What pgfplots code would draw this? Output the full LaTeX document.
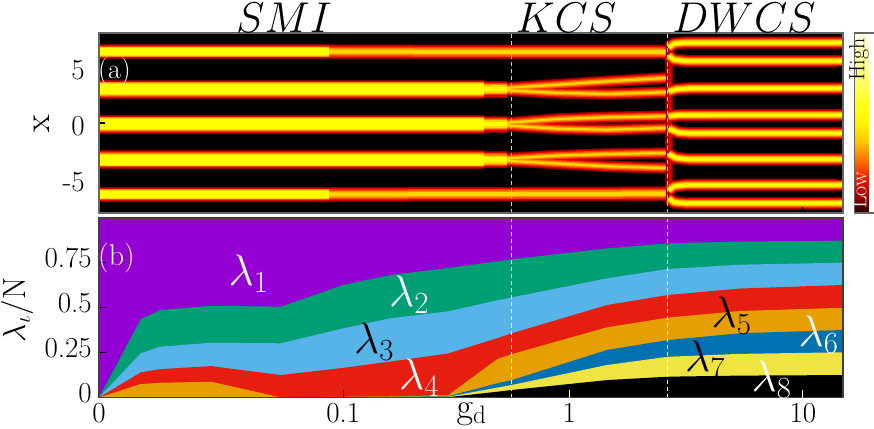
\RequirePackage{fix-cm}
\documentclass[border=0pt]{standalone}
\usepackage{pgfplots}
\usepackage{pgfplotstable}
\pgfplotsset{compat=1.18}
\newcommand\fs[1]{\fontsize{#1}{#1}\selectfont}
\definecolor{cpurple}{HTML}{9400D3}
\definecolor{cgreen}{HTML}{009E73}
\definecolor{csky}{HTML}{56B4E9}
\definecolor{cred}{HTML}{E51E10}
\definecolor{corange}{HTML}{E69F00}
\definecolor{cblue}{HTML}{0072B2}
\definecolor{cyellow}{HTML}{F0E442}
\definecolor{lA}{RGB}{140,0,0}
\definecolor{lB}{RGB}{215,0,0}
\definecolor{lC}{RGB}{255,60,0}
\definecolor{lD}{RGB}{255,140,0}
\definecolor{lE}{RGB}{255,215,0}
\definecolor{lF}{RGB}{255,255,0}
\pgfplotsset{colormap={hotc}{rgb255=(30,0,0) rgb255=(170,0,0) rgb255=(240,30,0) rgb255=(255,120,0) rgb255=(255,200,0) rgb255=(255,245,0) rgb255=(255,255,20) rgb255=(255,255,80) rgb255=(255,255,140) rgb255=(255,255,190) rgb255=(255,255,230)}}

% stacked occupations (cumulative boundaries), u = log10(g_d+0.01)
\pgfplotstableread{
u B1 B2 B3 B4 B5 B6 B7 B8
-2 1 0 0 0 0 0 0 0
-1.8223 1 0.436 0.246 0.140 0.075 0 0 0
-1.7400 1 0.487 0.283 0.158 0.082 0 0 0
-1.5226 1 0.511 0.305 0.175 0.088 0 0 0
-1.2242 1 0.506 0.302 0.125 0.000 0 0 0
-0.9599 1 0.627 0.385 0.165 0.004 0.002 0.001 0
-0.7596 1 0.682 0.441 0.200 0.007 0.004 0.002 0
-0.5124 1 0.722 0.480 0.245 0.012 0.007 0.004 0.002
-0.3035 1 0.759 0.541 0.330 0.213 0.079 0.055 0.032
-0.2396 1 0.770 0.558 0.358 0.242 0.097 0.070 0.042
0.1654 1 0.831 0.664 0.515 0.391 0.265 0.181 0.097
0.4254 1 0.859 0.716 0.571 0.445 0.320 0.227 0.116
0.7323 1 0.869 0.740 0.607 0.482 0.358 0.243 0.122
1.1714 1 0.874 0.751 0.627 0.500 0.376 0.252 0.125
}\lam

% density maxima (band centres)
\pgfplotstableread{
u x
-2 3.0
-0.36 3.0
nan nan
-2 -0.1
-0.36 -0.1
nan nan
-2 -3.25
-0.36 -3.25
}\tSA
\pgfplotstableread{
u x
-0.36 3.0
-0.26 3.0
nan nan
-0.36 -0.1
-0.26 -0.1
nan nan
-0.36 -3.25
-0.26 -3.25
}\tSM
\pgfplotstableread{
u x
-2 6.34
-1.02 6.34
nan nan
-2 -6.35
-1.02 -6.35
}\tSAo
\pgfplotstableread{
u x
-1.02 6.34
0.415 6.31
nan nan
-1.02 -6.35
0.415 -6.28
}\tSB
\pgfplotstableread{
u x
-0.30 3.0
-0.24 3.15
-0.05 3.4
0.17 3.71
0.415 4.0
nan nan
-0.30 3.0
-0.24 2.88
-0.05 2.68
0.17 2.58
0.415 2.73
nan nan
-0.30 -0.1
-0.24 0.05
-0.05 0.35
0.17 0.51
0.415 0.6
nan nan
-0.30 -0.1
-0.24 -0.25
-0.05 -0.5
0.17 -0.6
0.415 -0.44
nan nan
-0.30 -3.25
-0.24 -3.12
-0.05 -2.9
0.17 -2.76
0.415 -2.67
nan nan
-0.30 -3.25
-0.24 -3.38
-0.05 -3.6
0.17 -3.85
0.415 -4.0
}\tSBb
\pgfplotstableread{
u x
0.428 6.7
0.45 7.05
0.50 7.14
1.1714 7.14
nan nan
0.428 6.0
0.45 5.62
0.50 5.51
1.1714 5.51
nan nan
0.428 2.8
0.46 3.0
0.52 3.08
1.1714 3.08
nan nan
0.428 0.6
0.47 0.7
1.1714 0.71
nan nan
0.428 -0.5
0.47 -0.85
0.52 -0.92
1.1714 -0.92
nan nan
0.428 -2.75
0.46 -3.12
0.52 -3.23
1.1714 -3.23
nan nan
0.428 -6.0
0.45 -5.62
0.50 -5.51
1.1714 -5.51
nan nan
0.428 -6.7
0.45 -7.05
0.50 -7.14
1.1714 -7.14
}\tSC
\pgfplotstableread{
u x
0.43 -7.2
0.43 7.2
}\tSV

\newcommand\lay[3]{\addplot[draw=#1, line width=#2, no markers, line join=round, forget plot] table[x=u,y=x] {#3};}

\begin{document}
\begin{tikzpicture}
\useasboundingbox (0,0) rectangle (874pt,428pt);

% ---------------- panel (a)
\begin{axis}[
  at={(99pt,215pt)}, anchor=south west, scale only axis,
  width=744pt, height=180pt,
  xmin=-2, xmax=1.1714, ymin=-8, ymax=8,
  axis background/.style={fill=black},
  axis on top,
  axis line style={draw=black!60, line width=1.3pt},
  tick style={black, line width=1.1pt}, major tick length=6pt, tick align=inside,
  xtick={-0.9586,0.0043,1.0004}, xticklabels={}, xtick pos=left,
  ytick={-5,0,5}, yticklabels={{\textrm{-5}},0,5},
  tick label style={font=\fs{29}},
  yticklabel style={inner sep=0pt, xshift=-14pt, yshift=-3pt},
  unbounded coords=jump,
  colormap name=hotc, colorbar, point meta min=0, point meta max=1,
  colorbar style={at={(parent axis.south east)}, anchor=south west, xshift=3pt,
     scale only axis, width=26pt, height=180pt, ytick=\empty, xtick=\empty,
     axis line style={draw=black!60, line width=1.3pt}},
]
\lay{lA}{8pt}{\tSV}
\lay{lA}{19pt}{\tSA}\lay{lA}{17pt}{\tSM}\lay{lA}{15.5pt}{\tSAo}\lay{lA}{14.5pt}{\tSB}\lay{lA}{11.5pt}{\tSBb}\lay{lA}{12.5pt}{\tSC}
\lay{lB}{4pt}{\tSV}
\lay{lB}{17pt}{\tSA}\lay{lB}{15pt}{\tSM}\lay{lB}{13.5pt}{\tSAo}\lay{lB}{12.5pt}{\tSB}\lay{lB}{9.5pt}{\tSBb}\lay{lB}{10.5pt}{\tSC}
\lay{lC}{15pt}{\tSA}\lay{lC}{12.5pt}{\tSM}\lay{lC}{11.5pt}{\tSAo}\lay{lC}{10pt}{\tSB}\lay{lC}{7pt}{\tSBb}\lay{lC}{8.5pt}{\tSC}
\lay{lD}{13.5pt}{\tSA}\lay{lD}{10.5pt}{\tSM}\lay{lD}{10pt}{\tSAo}\lay{lD}{7pt}{\tSB}\lay{lD}{4.5pt}{\tSBb}\lay{lD}{6.5pt}{\tSC}
\lay{lE}{12pt}{\tSA}\lay{lE}{8pt}{\tSM}\lay{lE}{8.5pt}{\tSAo}\lay{lE}{4pt}{\tSB}\lay{lE}{2.2pt}{\tSBb}\lay{lE}{4.8pt}{\tSC}
\lay{lF}{10pt}{\tSA}\lay{lF}{4.5pt}{\tSM}\lay{lF}{6.5pt}{\tSAo}\lay{lF}{2.8pt}{\tSC}
\addplot[draw=black!20, line width=1.3pt, dash pattern=on 4pt off 3pt, forget plot] coordinates {(-0.2408,-8) (-0.2408,8)};
\addplot[draw=black!20, line width=1.3pt, dash pattern=on 4pt off 3pt, forget plot] coordinates {(0.4241,-8) (0.4241,8)};
\end{axis}

% ---------------- panel (b)
\begin{axis}[
  at={(99pt,30.5pt)}, anchor=south west, scale only axis,
  width=744pt, height=179.5pt,
  xmin=-2, xmax=1.1714, ymin=0, ymax=1,
  axis on top,
  axis line style={draw=black!75, line width=1.3pt},
  tick style={black, line width=1.1pt}, major tick length=7pt, tick align=inside,
  xtick={-2,-0.9586}, xticklabels={0,0.1}, xtick pos=left,
  extra x ticks={0.0043,1.0004}, extra x tick labels={1,10},
  extra x tick style={major tick style={white, line width=1.1pt}},
  ytick={0,0.25,0.5,0.75}, yticklabels={0,0.25,0.5,0.75}, ytick pos=left,
  tick label style={font=\fs{29}},
  xticklabel style={inner sep=0pt, yshift=-5.5pt},
  yticklabel style={inner sep=0pt, xshift=-7pt, yshift=4.5pt},
]
\addplot[fill=cpurple, draw=none] table[x=u,y=B1] {\lam} \closedcycle;
\addplot[fill=cgreen, draw=none] table[x=u,y=B2] {\lam} \closedcycle;
\addplot[fill=csky, draw=none] table[x=u,y=B3] {\lam} \closedcycle;
\addplot[fill=cred, draw=none] table[x=u,y=B4] {\lam} \closedcycle;
\addplot[fill=corange, draw=none] table[x=u,y=B5] {\lam} \closedcycle;
\addplot[fill=cblue, draw=none] table[x=u,y=B6] {\lam} \closedcycle;
\addplot[fill=cyellow, draw=none] table[x=u,y=B7] {\lam} \closedcycle;
\addplot[fill=black, draw=none] table[x=u,y=B8] {\lam} \closedcycle;
\addplot[draw=white, line width=1.3pt, dash pattern=on 4pt off 3pt] coordinates {(-0.2408,0) (-0.2408,1)};
\addplot[draw=white, line width=1.3pt, dash pattern=on 4pt off 3pt] coordinates {(0.4241,0) (0.4241,1)};
\end{axis}

% ---------------- text
\node[anchor=base, inner sep=0pt, font=\fs{43}] at (284pt,395pt) {$SMI$};
\node[anchor=base, inner sep=0pt, font=\fs{43}] at (566pt,395pt) {$KCS$};
\node[anchor=base, inner sep=0pt, font=\fs{43}] at (744pt,395pt) {$DWCS$};
\node[anchor=base west, inner sep=0pt, font=\fs{28}, text=white] at (98pt,349.5pt) {(a)};
\node[anchor=base west, inner sep=0pt, font=\fs{30}, text=white] at (98pt,162.5pt) {(b)};
\node[rotate=90, inner sep=0pt, font=\fs{36}] at (42pt,304pt) {x};
\node[rotate=90, inner sep=0pt, font=\fs{32}] at (17pt,118pt) {$\lambda_\iota/\mathrm{N}$};
\node[inner sep=0pt, font=\fs{36}] at (471.5pt,14pt) {$\mathrm{g_d}$};
\node[rotate=90, inner sep=0pt, font=\fs{22}] at (859pt,368.5pt) {High};
\node[rotate=90, inner sep=0pt, font=\fs{22}, text=white] at (859pt,237.5pt) {Low};
\node[inner sep=0pt, font=\fs{44}, text=white] at (248.5pt,154pt) {$\lambda_1$};
\node[inner sep=0pt, font=\fs{44}, text=white] at (409pt,133pt) {$\lambda_2$};
\node[inner sep=0pt, font=\fs{44}] at (374pt,86.5pt) {$\lambda_3$};
\node[inner sep=0pt, font=\fs{44}, text=white] at (419pt,50pt) {$\lambda_4$};
\node[inner sep=0pt, font=\fs{44}] at (731.5pt,112pt) {$\lambda_5$};
\node[inner sep=0pt, font=\fs{44}, text=white] at (818.5pt,93pt) {$\lambda_6$};
\node[inner sep=0pt, font=\fs{44}] at (705pt,68pt) {$\lambda_7$};
\node[inner sep=0pt, font=\fs{44}, text=white] at (771.5pt,48pt) {$\lambda_8$};
\end{tikzpicture}
\end{document}
